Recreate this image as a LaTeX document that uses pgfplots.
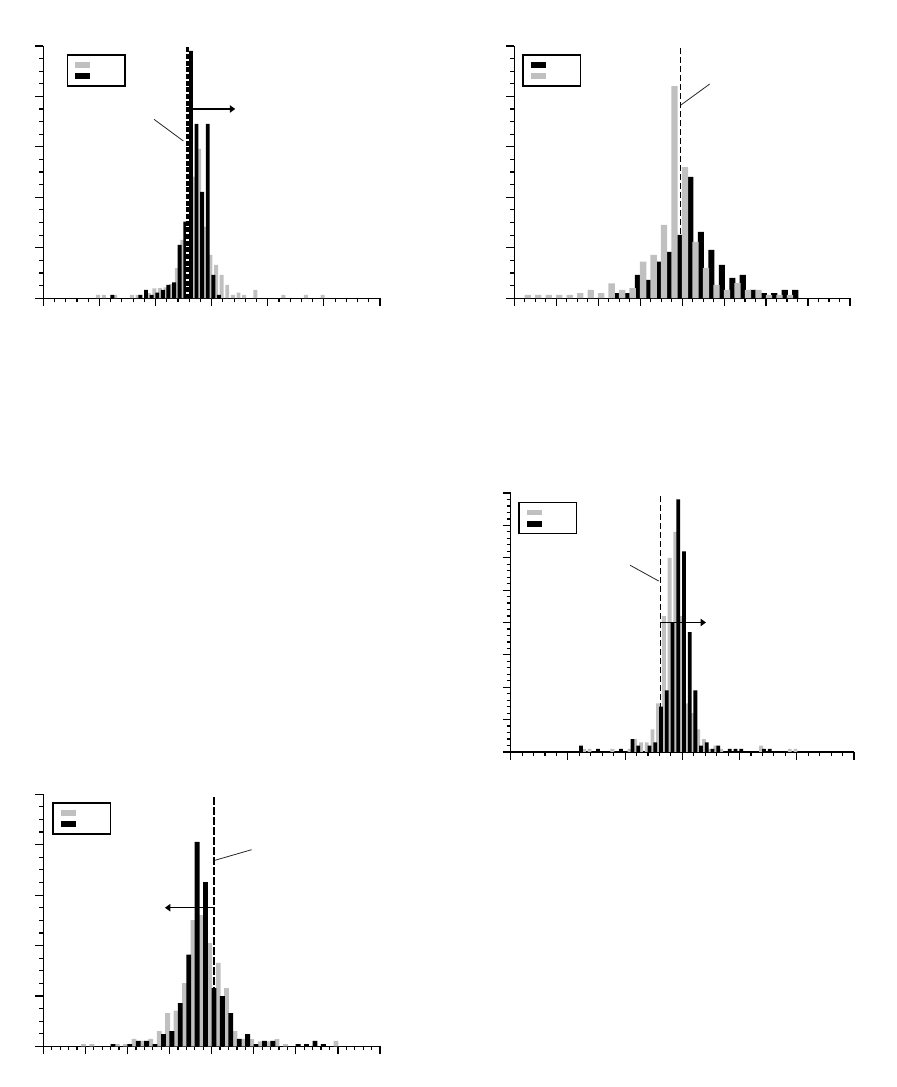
\documentclass[border=0pt]{standalone}
\usepackage{pgfplots}
\pgfplotsset{compat=1.18}
\usetikzlibrary{arrows.meta}
\definecolor{histgray}{RGB}{192,192,192}
\tikzset{arr/.style={line width=0.8pt, -{Triangle[length=4pt,width=5.5pt]}}}
\pgfplotsset{
  panel/.style={
    scale only axis,
    axis lines=left,
    axis line style={-, line width=1pt, black},
    tick align=outside,
    major tick length=6pt,
    minor tick length=3pt,
    tick style={line width=0.9pt, black},
    xticklabels={}, yticklabels={},
    enlargelimits=false,
    ymin=0,
    legend image code/.code={\fill[##1] (0pt,-2.15pt) rectangle (11.25pt,2.15pt);},
    legend style={anchor=north west, draw=black, line width=1pt, fill=white,
      inner xsep=6pt, inner ysep=5.2pt, row sep=4.2pt, font=\tiny,
      nodes={inner sep=0pt}},
  },
  graybar/.style={ybar, fill=histgray, draw=none},
  blackbar/.style={ybar, fill=black, draw=none},
}
\begin{document}
\begin{tikzpicture}
\useasboundingbox (0,0) rectangle (672pt,815.25pt);

% ---------------- Panel 1 (top left) ----------------
\begin{axis}[panel, at={(32.5pt,591.6pt)}, anchor=south west,
  width=252.5pt, height=189.2pt,
  xmin=0, xmax=60, ymax=100,
  xtick distance=10, minor x tick num=4,
  ytick distance=20, minor y tick num=3,
  legend style={at={(axis description cs:0.0695,0.967)}}]
\addplot[graybar, bar width=0.7, bar shift=0.78] coordinates {
 (9,1.3) (10,1.3) (12,1.3) (15,1.3) (16,1.3) (18,2.0) (19,3.9) (20,4.0) (21,4.3)
 (22,5.6) (23,11.9) (24,23.1) (25,40.3) (26,48.2) (27,59.2) (28,28.4) (29,17.2)
 (30,13.2) (31,9.2) (32,5.3) (33,1.3) (34,2.2) (35,1.3) (37,3.3) (42,1.3) (46,1.3) (49,1.3)};
\addlegendentry{\hspace*{20pt}}
\addplot[blackbar, bar width=0.7, bar shift=0.3] coordinates {
 (12,1.3) (17,1.3) (18,3.3) (19,1.3) (20,2.2) (21,3.3) (22,5.3) (23,6.3) (24,21.1)
 (25,30.3) (26,98) (27,69.1) (28,42.1) (29,69.1) (30,9.2) (31,1.3)};
\addlegendentry{\hspace*{20pt}}
\draw[white, line width=1.7pt] (axis cs:25.7,0) -- (axis cs:25.7,99.4);
\draw[black, line width=1.7pt, dash pattern=on 3.75pt off 1.25pt] (axis cs:25.7,99.4) -- (axis cs:25.7,0);
\draw[arr] (axis cs:26.0,75) -- (axis cs:34.2,75);
\draw[line width=0.6pt, black!85] (axis cs:19.73,70.9) -- (axis cs:24.96,62.3);
\end{axis}

% ---------------- Panel 2 (top right) ----------------
\begin{axis}[panel, at={(385.7pt,591.6pt)}, anchor=south west,
  width=251.8pt, height=189.2pt,
  xmin=0, xmax=32, ymax=100,
  xtick distance=4, minor x tick num=3,
  ytick distance=20, minor y tick num=3,
  legend style={at={(axis description cs:0.0238,0.967)}}]
\addplot[blackbar, bar width=0.58, bar shift=0.78] coordinates {
 (9,2.0) (10,2.0) (11,9.2) (12,7.3) (13,14.5) (14,18.4) (15,25.1) (16,48.1) (17,26.3)
 (18,19.2) (19,13.2) (20,8.1) (21,9.2) (22,3.3) (23,2.0) (24,2.0) (25,3.3) (26,3.3)};
\addlegendentry{\hspace*{20pt}}
\addplot[graybar, bar width=0.6, bar shift=0.28] coordinates {
 (1,1.3) (2,1.3) (3,1.3) (4,1.3) (5,1.3) (6,2.0) (7,3.3) (8,2.0) (9,5.9) (10,3.3)
 (11,4.0) (12,14.5) (13,17.2) (14,29.1) (15,84.1) (16,52.0) (17,22.3) (18,12.0)
 (19,5.3) (20,3.3) (21,6.0) (22,3.3) (23,3.3) (24,1.3) (25,1.3) (26,1.3)};
\addlegendentry{\hspace*{20pt}}
\draw[black, line width=0.8pt, dash pattern=on 4.5pt off 2.25pt] (axis cs:15.82,99.1) -- (axis cs:15.82,0);
\draw[line width=0.6pt, black!85] (axis cs:15.89,76.6) -- (axis cs:18.63,84.9);
\end{axis}

% ---------------- Panel 3 (middle right) ----------------
\begin{axis}[panel, at={(383.0pt,251.25pt)}, anchor=south west,
  width=257.5pt, height=194.25pt,
  xmin=0, xmax=60, ymax=80,
  xtick distance=10, minor x tick num=4,
  ytick distance=10, minor y tick num=4,
  legend style={at={(axis description cs:0.0221,0.965)}}]
\addplot[graybar, bar width=0.68, bar shift=0.78] coordinates {
 (12,1) (13,1) (17,1) (20,1) (21,4) (22,3) (23,3) (24,7) (25,15) (26,42) (27,60)
 (28,68) (29,42) (30,15) (31,12) (32,7) (33,4) (34,1) (35,2) (36,1) (43,2) (48,1) (49,1)};
\addlegendentry{\hspace*{20pt}}
\addplot[blackbar, bar width=0.66, bar shift=0.28] coordinates {
 (12,2) (15,1) (19,1) (21,4) (22,2) (24,2) (25,3) (26,14) (27,19) (28,40) (29,78)
 (30,62) (31,37) (32,19) (33,2) (34,3) (35,1) (36,2) (38,1) (39,1) (40,1) (44,1) (45,1)};
\addlegendentry{\hspace*{20pt}}
\draw[black, line width=0.8pt, dash pattern=on 4.5pt off 2.25pt] (axis cs:26.15,79) -- (axis cs:26.15,0);
\draw[arr] (axis cs:26.15,40) -- (axis cs:34.13,40);
\draw[line width=0.6pt, black!85] (axis cs:20.86,57.7) -- (axis cs:25.88,52.8);
\end{axis}

% ---------------- Panel 4 (bottom left) ----------------
\begin{axis}[panel, at={(32.5pt,30.4pt)}, anchor=south west,
  width=252.5pt, height=189.2pt,
  xmin=0, xmax=40, ymax=100,
  xtick distance=5, minor x tick num=4,
  ytick distance=20, minor y tick num=3,
  legend style={at={(axis description cs:0.0267,0.968)}}]
\addplot[graybar, bar width=0.57, bar shift=0.77] coordinates {
 (4,0.9) (5,0.9) (8,0.9) (9,0.9) (10,3.0) (11,2.2) (12,3.0) (13,6.1) (14,13.2)
 (15,14.2) (16,25.1) (17,50.1) (18,52.1) (19,41.0) (20,33.1) (21,23.1) (22,6.1)
 (23,3.0) (24,2.9) (25,2.0) (26,2.0) (27,2.9) (28,0.9) (34,2.2)};
\addlegendentry{\hspace*{20pt}}
\addplot[blackbar, bar width=0.57, bar shift=0.27] coordinates {
 (8,0.9) (10,0.9) (11,2.2) (12,2.2) (13,0.9) (14,4.9) (15,6.1) (16,17.2) (17,36.4)
 (18,81.1) (19,65.1) (20,23.1) (21,20.0) (22,13.2) (23,3.0) (24,4.9) (25,0.9)
 (26,2.2) (27,2.2) (30,0.9) (31,0.9) (32,2.2) (33,0.9)};
\addlegendentry{\hspace*{20pt}}
\draw[black, line width=1.5pt, dash pattern=on 5.5pt off 2pt] (axis cs:20.23,98.8) -- (axis cs:20.23,0);
\draw[arr] (axis cs:20.23,55) -- (axis cs:14.45,55);
\draw[line width=0.6pt, black!85] (axis cs:20.39,73.8) -- (axis cs:24.75,78.0);
\end{axis}
\end{tikzpicture}
\end{document}
